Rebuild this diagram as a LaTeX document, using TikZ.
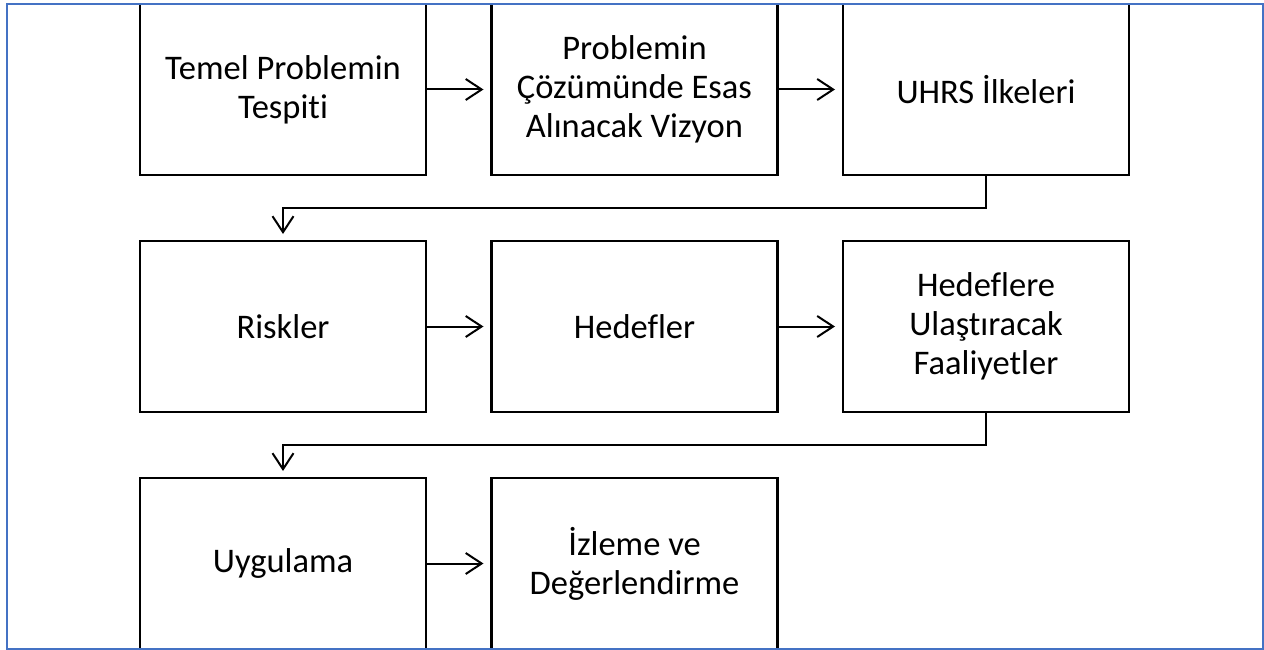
\documentclass[tikz,border=0pt]{standalone}
\usepackage{fontspec}
\setmainfont[Ligatures=NoCommon]{Carlito}
\usepackage{tikz}
\usetikzlibrary{arrows.meta,positioning}
\definecolor{framblue}{RGB}{68,114,196}
\tikzset
{
	procbox/.style = {rectangle, draw=black, line width=2.2pt, align=center, minimum width=286pt, minimum height=171pt, inner sep=0pt, outer sep=0pt, font=\fontsize{34.5}{39}\selectfont},
	flowarrow/.style = {draw=black, line width=2pt, -{Straight Barb[length=16pt, width=21pt, line width=2pt]}, shorten >=8pt},
	turnarrow/.style = {draw=black, line width=2pt, -{Straight Barb[length=16pt, width=21pt, line width=2pt]}, shorten >=7pt}
}

\begin{document}
\begin{tikzpicture}[x=1pt, y=-1pt, node distance=66pt and 65.5pt]
\useasboundingbox (0,0) rectangle (1264,650);
\node[procbox] (tespit) at (283,89.5) {Temel Problemin\\Tespiti};
\node[procbox, right=of tespit] (vizyon) {Problemin\\Çözümünde Esas\\Alınacak Vizyon};
\node[procbox, right=of vizyon] (ilke) {UHRS İlkeleri};
\node[procbox, below=of tespit] (risk) {Riskler};
\node[procbox, right=of risk] (hedef) {Hedefler};
\node[procbox, right=of hedef] (faaliyet) {Hedeflere\\Ulaştıracak\\Faaliyetler};
\node[procbox, below=of risk] (uygulama) {Uygulama};
\node[procbox, right=of uygulama] (izleme) {İzleme ve\\Değerlendirme};
\draw[flowarrow] (tespit) -- (vizyon);
\draw[flowarrow] (vizyon) -- (ilke);
\draw[flowarrow] (risk) -- (hedef);
\draw[flowarrow] (hedef) -- (faaliyet);
\draw[flowarrow] (uygulama) -- (izleme);
\draw[turnarrow] (ilke.south) -- ++(0,33) -| (risk.north);
\draw[turnarrow] (faaliyet.south) -- ++(0,33) -| (uygulama.north);
\draw[draw=framblue, line width=1.5pt] (7,4) rectangle (1263,649);
\end{tikzpicture}
\end{document}
